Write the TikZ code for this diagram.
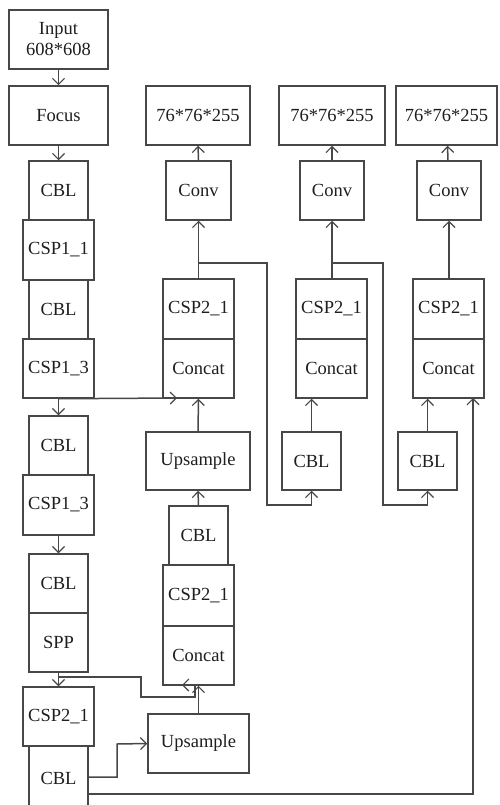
\documentclass[tikz,border=0pt]{standalone}
\usepackage{fontspec}
\setmainfont{Liberation Serif}
\usetikzlibrary{arrows.meta}
\definecolor{ln}{HTML}{474747}
\definecolor{tx}{HTML}{1E1E1E}
\begin{document}
\begin{tikzpicture}[x=1pt,y=-1pt,
  box/.style={draw=ln,line width=1.5pt,rectangle,inner sep=0pt,align=center,text=tx,font=\fontsize{18.5}{21}\selectfont},
  conn/.style={draw=ln,line width=1.5pt},
  arr/.style={conn,-{Straight Barb[length=6pt,width=12pt,line width=1.2pt]}}]
\useasboundingbox (0,0) rectangle (500,805);
% left backbone
\node[box,minimum width=99pt,minimum height=59pt] (inp) at (58.5,39.5) {Input\\608*608};
\node[box,minimum width=99pt,minimum height=59pt] (focus) at (58.5,115.5) {Focus};
\node[box,minimum width=59pt,minimum height=59pt] (cbl1) at (58.5,190.5) {CBL};
\node[box,minimum width=71pt,minimum height=60pt] (csp11) at (58.5,250) {CSP1\_1};
\node[box,minimum width=59pt,minimum height=59pt] (cbl2) at (58.5,309.5) {CBL};
\node[box,minimum width=71pt,minimum height=59pt] (csp13a) at (58.5,368.5) {CSP1\_3};
\node[box,minimum width=59pt,minimum height=59pt] (cbl3) at (58.5,445.5) {CBL};
\node[box,minimum width=71pt,minimum height=60pt] (csp13b) at (58.5,505) {CSP1\_3};
\node[box,minimum width=59pt,minimum height=59pt] (cbl4) at (58.5,583.5) {CBL};
\node[box,minimum width=59pt,minimum height=59pt] (spp) at (58.5,642.5) {SPP};
\node[box,minimum width=71pt,minimum height=59pt] (csp21l) at (58.5,716.5) {CSP2\_1};
\node[box,minimum width=59pt,minimum height=64pt] (cbl5) at (58.5,778) {CBL};
% middle column
\node[box,minimum width=104pt,minimum height=59pt] (out1) at (198,115.5) {76*76*255};
\node[box,minimum width=65pt,minimum height=59pt] (conv1) at (198.5,190.5) {Conv};
\node[box,minimum width=71pt,minimum height=60pt] (csp21a) at (198.5,309) {CSP2\_1};
\node[box,minimum width=71pt,minimum height=59pt] (concat1) at (198.5,368.5) {Concat};
\node[box,minimum width=104pt,minimum height=58pt] (ups1) at (198,461) {Upsample};
\node[box,minimum width=59pt,minimum height=59pt] (cblm) at (198.5,535.5) {CBL};
\node[box,minimum width=71pt,minimum height=61pt] (csp21b) at (198.5,595.5) {CSP2\_1};
\node[box,minimum width=71pt,minimum height=59pt] (concat2) at (198.5,655.5) {Concat};
\node[box,minimum width=101pt,minimum height=59pt] (ups2) at (198.5,743.5) {Upsample};
% column 2
\node[box,minimum width=106pt,minimum height=59pt] (out2) at (332,115.5) {76*76*255};
\node[box,minimum width=64pt,minimum height=59pt] (conv2) at (332,190.5) {Conv};
\node[box,minimum width=71pt,minimum height=60pt] (cspc2) at (331.5,309) {CSP2\_1};
\node[box,minimum width=71pt,minimum height=59pt] (concc2) at (331.5,368.5) {Concat};
\node[box,minimum width=59pt,minimum height=58pt] (cblc2) at (311.5,461) {CBL};
% column 3
\node[box,minimum width=101pt,minimum height=59pt] (out3) at (446.5,115.5) {76*76*255};
\node[box,minimum width=64pt,minimum height=59pt] (conv3) at (449,190.5) {Conv};
\node[box,minimum width=71pt,minimum height=60pt] (cspc3) at (448.5,309) {CSP2\_1};
\node[box,minimum width=71pt,minimum height=59pt] (concc3) at (448.5,368.5) {Concat};
\node[box,minimum width=59pt,minimum height=58pt] (cblc3) at (427.5,461) {CBL};
% coordinates
\coordinate (j1) at (198,263);
\coordinate (j2) at (332,263);
\coordinate (a1) at (177,398);
\coordinate (s0) at (58.5,677);
\coordinate (s1) at (182,685);
\coordinate (c5a) at (88,777);
\coordinate (c5b) at (88,794);
% backbone arrows
\draw[arr] (inp) -- (focus);
\draw[arr] (focus) -- (cbl1);
\draw[arr] (csp13a) -- (cbl3);
\draw[arr] (csp13b) -- (cbl4);
\draw[arr] (spp) -- (csp21l);
% middle
\draw[arr] (csp13a.south) -- (a1);
\draw[arr] (ups1) -- (concat1);
\draw[arr] (csp21a.north -| conv1.south) -- (conv1.south);
\draw[arr] (conv1) -- (out1);
\draw[arr] (cblm) -- (ups1);
\draw[arr] (ups2) -- (concat2);
% column 2
\draw[arr] (cspc2.north -| conv2.south) -- (conv2.south);
\draw[arr] (conv2) -- (out2);
\draw[arr] (cblc2.north) -- (cblc2.north |- concc2.south);
\draw[arr] (j1) -- (267,263) -- (267,505) -- (cblc2.south |- 0,505) -- (cblc2.south);
% column 3
\draw[arr] (cspc3.north -| conv3.south) -- (conv3.south);
\draw[arr] (conv3) -- (out3);
\draw[arr] (cblc3.north) -- (cblc3.north |- concc3.south);
\draw[arr] (j2) -- (383,263) -- (383,505) -- (cblc3.south |- 0,505) -- (cblc3.south);
% lower links
\draw[arr] (s0) -- (141,677) -- (141,697) -- (195,697) -- (195,685) -- (s1);
\draw[arr] (c5a) -- (117,777) -- (117,744) -- (ups2.west);
\draw[arr] (c5b) -- (473,794) -- (473,398);
\end{tikzpicture}
\end{document}
